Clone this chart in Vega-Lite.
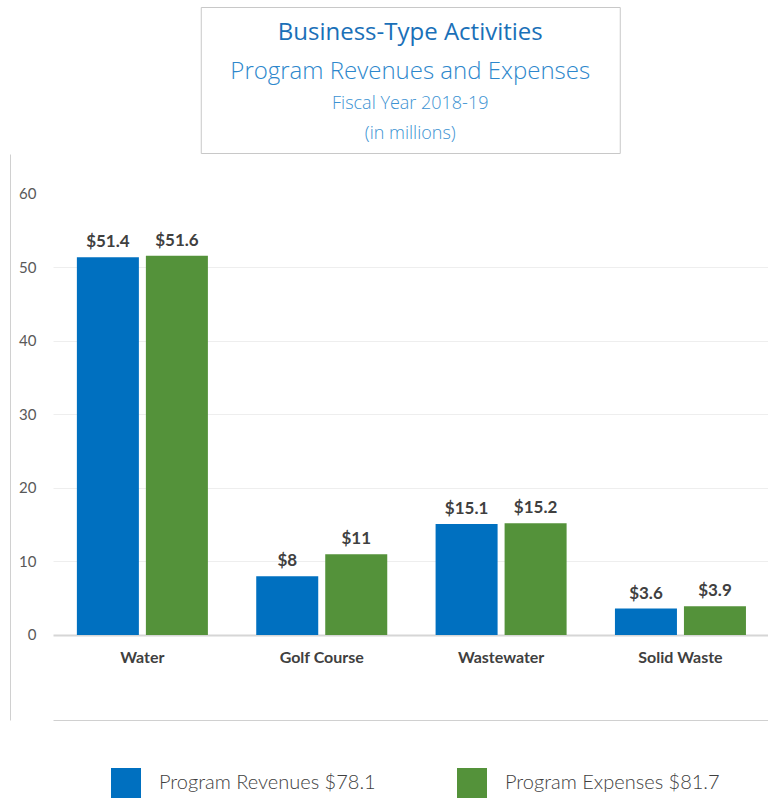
{
  "$schema": "https://vega.github.io/schema/vega-lite/v6.json",
  "padding": {"left": 10, "top": 6, "right": 0, "bottom": 0},
  "spacing": 0,
  "columns": 1,
  "center": true,
  "background": "white",
  "config": {"font": "Lato", "view": {"stroke": null}},
  "datasets": {
    "titles": [
      {"row": 1, "line": "Business-Type Activities"},
      {"row": 2, "line": "Program Revenues and Expenses"},
      {"row": 3, "line": "Fiscal Year 2018-19"},
      {"row": 4, "line": "(in millions)"}
    ],
    "finance": [
      {"fund": "Water", "series": "Program Revenues $78.1", "amount": 51.4},
      {"fund": "Water", "series": "Program Expenses $81.7", "amount": 51.6},
      {"fund": "Golf Course", "series": "Program Revenues $78.1", "amount": 8},
      {"fund": "Golf Course", "series": "Program Expenses $81.7", "amount": 11},
      {"fund": "Wastewater", "series": "Program Revenues $78.1", "amount": 15.1},
      {"fund": "Wastewater", "series": "Program Expenses $81.7", "amount": 15.2},
      {"fund": "Solid Waste", "series": "Program Revenues $78.1", "amount": 3.6},
      {"fund": "Solid Waste", "series": "Program Expenses $81.7", "amount": 3.9}
    ]
  },
  "concat": [
    {
      "width": 419,
      "height": 146,
      "view": {"stroke": "#c8c8c8", "strokeWidth": 1},
      "data": {"name": "titles"},
      "encoding": {
        "y": {
          "field": "row",
          "type": "ordinal",
          "scale": {"type": "point", "padding": 0.5},
          "axis": {"labels": false, "ticks": false, "domain": false, "grid": false, "title": null, "minExtent": 43, "maxExtent": 43}
        },
        "text": {"field": "line"}
      },
      "layer": [
        {"transform": [{"filter": "datum.row === 1"}], "mark": {"type": "text", "font": "Open Sans", "fontSize": 24, "color": "#1a70b8", "baseline": "middle", "dy": 8}},
        {"transform": [{"filter": "datum.row === 2"}], "mark": {"type": "text", "font": "Open Sans", "fontSize": 24, "fontWeight": 300, "color": "#2d87cc", "baseline": "middle", "dy": 10}},
        {"transform": [{"filter": "datum.row === 3"}], "mark": {"type": "text", "font": "Open Sans", "fontSize": 18, "fontWeight": 300, "color": "#3b92d2", "baseline": "middle", "dy": 6}},
        {"transform": [{"filter": "datum.row === 4"}], "mark": {"type": "text", "font": "Open Sans", "fontSize": 18, "fontWeight": 300, "color": "#3b92d2", "baseline": "middle", "dy": -1}}
      ]
    },
    {
      "width": 715,
      "height": 566,
      "view": {"stroke": null},
      "data": {"name": "finance"},
      "encoding": {
        "x": {
          "field": "fund",
          "type": "nominal",
          "sort": ["Water", "Golf Course", "Wastewater", "Solid Waste"],
          "scale": {"paddingInner": 0.2695, "paddingOuter": 0.128, "align": 0.52},
          "axis": {
            "title": null, "orient": "bottom", "labelAngle": 0, "ticks": false,
            "domain": true, "domainColor": "#d0d0d0", "domainWidth": 1,
            "labelPadding": -71, "labelFont": "Lato", "labelFontSize": 16,
            "labelFontWeight": "bold", "labelColor": "#404040", "grid": false
          }
        },
        "xOffset": {
          "field": "series",
          "type": "nominal",
          "sort": ["Program Revenues $78.1", "Program Expenses $81.7"],
          "scale": {"paddingInner": 0.1014, "paddingOuter": 0}
        },
        "y": {
          "field": "amount",
          "type": "quantitative",
          "scale": {"domain": [-11.565, 65.442], "nice": false, "zero": false},
          "axis": {
            "title": null, "orient": "left", "offset": 43, "values": [0, 10, 20, 30, 40, 50, 60],
            "ticks": false, "domain": true, "domainColor": "#d0d0d0", "domainWidth": 1,
            "labelAlign": "right", "labelPadding": -26,
            "labelFont": "Lato", "labelFontSize": 15, "labelColor": "#595959",
            "grid": true,
            "gridColor": {"condition": {"test": "datum.value === 0", "value": "#d6d6d6"}, "value": "#eeeeee"},
            "gridWidth": {"condition": {"test": "datum.value === 0", "value": 2}, "value": 1},
            "gridOpacity": {"condition": {"test": "datum.value === 60", "value": 0}, "value": 1}
          }
        }
      },
      "layer": [
        {
          "mark": {"type": "bar"},
          "encoding": {
            "y2": {"datum": 0},
            "color": {
              "field": "series",
              "type": "nominal",
              "sort": ["Program Revenues $78.1", "Program Expenses $81.7"],
              "scale": {"domain": ["Program Revenues $78.1", "Program Expenses $81.7"], "range": ["#0070c0", "#54923a"]},
              "legend": {
                "title": null, "orient": "none", "legendX": 58, "legendY": 761,
                "direction": "horizontal", "padding": 0,
                "symbolType": "square", "symbolSize": 900, "symbolStrokeWidth": 0,
                "labelFont": "Lato", "labelFontSize": 20, "labelFontWeight": 300,
                "labelColor": "#404040", "labelOffset": 18, "columnPadding": 81, "labelLimit": 400
              }
            }
          }
        },
        {
          "mark": {"type": "text", "baseline": "alphabetic", "dy": -10, "font": "Lato", "fontSize": 17, "fontWeight": "bold", "color": "#404040"},
          "encoding": {"text": {"field": "amount", "type": "quantitative", "format": "$.1~f"}}
        }
      ]
    }
  ]
}
